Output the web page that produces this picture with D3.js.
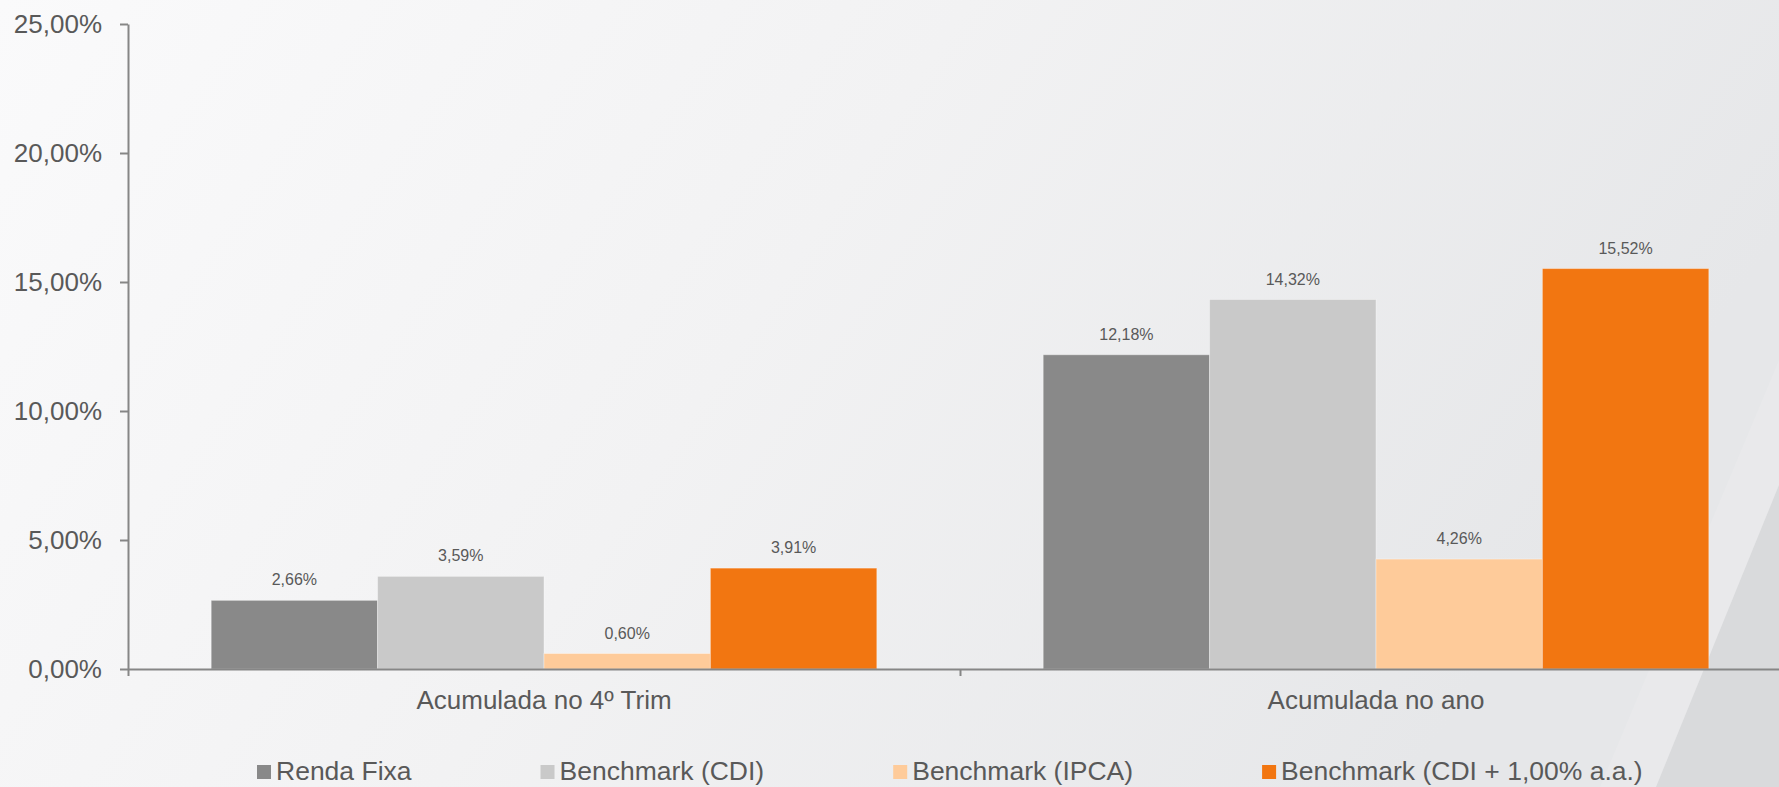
<!DOCTYPE html>
<html>
<head>
<meta charset="utf-8">
<script src="https://cdn.jsdelivr.net/npm/d3@7"></script>
<style>
  html, body { margin: 0; padding: 0; overflow: hidden; }
  svg { display: block; font-family: "Liberation Sans", Arial, sans-serif; }
</style>
</head>
<body>
<div id="chart"></div>
<script>
// data (values in %)
const categories = ["Acumulada no 4º Trim", "Acumulada no ano"];
const seriesNames = ["Renda Fixa", "Benchmark (CDI)", "Benchmark (IPCA)", "Benchmark (CDI + 1,00% a.a.)"];
const rendaFixa = [2.66, 12.18];
const benchCDI = [3.59, 14.32];
const benchIPCA = [0.60, 4.26];
const benchCDIPlus = [3.91, 15.52];
const seriesColors = ["#898989", "#c9c9c9", "#fecb9a", "#f27611"];
const yTicks = [0, 5, 10, 15, 20, 25];

const seriesValues = [rendaFixa, benchCDI, benchIPCA, benchCDIPlus];

const W = 1779, H = 787;
const margin = { top: 24, left: 128, right: -13, bottom: 118 }; // plot runs a bit past the right edge
const plotW = W - margin.left - margin.right,
      plotH = H - margin.top - margin.bottom;

const textColor = "#595959";
const axisColor = "#868686";

const ptBR = d3.formatLocale({ decimal: ",", thousands: ".", grouping: [3], currency: ["R$", ""] });
const fmt = v => ptBR.format(".2f")(v) + "%";

const svg = d3.select("#chart").append("svg")
    .attr("width", W)
    .attr("height", H);

// background
const defs = svg.append("defs");
const bg = defs.append("linearGradient").attr("id", "bg")
    .attr("x1", "0").attr("y1", "0").attr("x2", "1").attr("y2", "0.3");
bg.append("stop").attr("offset", "0").attr("stop-color", "#fafafb");
bg.append("stop").attr("offset", "0.5").attr("stop-color", "#f2f2f3");
bg.append("stop").attr("offset", "1").attr("stop-color", "#e6e7e9");
svg.append("rect").attr("width", W).attr("height", H).attr("fill", "url(#bg)");

// diagonal shapes bottom right
svg.append("polygon")
    .attr("points", `${W},360 ${W},${H} 1600,${H}`)
    .attr("fill", "#ebebed").attr("opacity", 0.5);
svg.append("polygon")
    .attr("points", `${W},485 ${W},${H} 1656,${H}`)
    .attr("fill", "#d9dadc");

const g = svg.append("g").attr("transform", `translate(${margin.left},${margin.top})`);

// scales
const x0 = d3.scaleBand().domain(categories).range([0, plotW]).padding(0);
const x1 = d3.scaleBand().domain(seriesNames)
    .range([x0.bandwidth() * 0.1, x0.bandwidth() * 0.9]).padding(0);
const y = d3.scaleLinear().domain([0, 25]).range([plotH, 0]);

// bars
const groups = g.selectAll(".group")
    .data(categories)
    .enter().append("g")
    .attr("class", "group")
    .attr("transform", d => `translate(${x0(d)},0)`);

groups.selectAll("rect")
    .data((c, i) => seriesNames.map((s, j) => ({ s, j, v: seriesValues[j][i] })))
    .enter().append("rect")
    .attr("x", d => x1(d.s))
    .attr("y", d => y(d.v))
    .attr("width", x1.bandwidth())
    .attr("height", d => y(0) - y(d.v))
    .attr("fill", d => seriesColors[d.j])
    .attr("stroke", "#ffffff")
    .attr("stroke-opacity", 0.35)
    .attr("stroke-width", 1);

groups.selectAll("text.val")
    .data((c, i) => seriesNames.map((s, j) => ({ s, j, v: seriesValues[j][i] })))
    .enter().append("text")
    .attr("class", "val")
    .attr("x", d => x1(d.s) + x1.bandwidth() / 2)
    .attr("y", d => y(d.v) - 15)
    .attr("text-anchor", "middle")
    .attr("font-size", 16)
    .attr("fill", textColor)
    .text(d => fmt(d.v));

// y axis
const yAxis = g.append("g")
    .call(d3.axisLeft(y).tickValues(yTicks).tickSize(8).tickSizeOuter(0).tickPadding(18).tickFormat(fmt));
yAxis.select(".domain").attr("stroke", axisColor).attr("stroke-width", 2);
yAxis.selectAll(".tick line").attr("stroke", axisColor).attr("stroke-width", 2);
yAxis.selectAll(".tick text")
    .attr("font-size", 26)
    .attr("font-family", "Liberation Sans, Arial, sans-serif")
    .attr("fill", textColor);

// x axis: baseline + boundary ticks
const bounds = categories.map(c => x0(c)).concat([plotW]);
const xTicks = g.append("g")
    .attr("transform", `translate(0,${plotH})`)
    .call(d3.axisBottom(d3.scaleLinear().domain([0, plotW]).range([0, plotW]))
        .tickValues(bounds).tickSize(7).tickSizeOuter(0).tickFormat(""));
xTicks.select(".domain").attr("stroke", axisColor).attr("stroke-width", 2);
xTicks.selectAll(".tick line").attr("stroke", axisColor).attr("stroke-width", 2);

// category labels
const xAxis = g.append("g")
    .attr("transform", `translate(0,${plotH})`)
    .call(d3.axisBottom(x0).tickSize(0).tickPadding(22));
xAxis.select(".domain").remove();
xAxis.selectAll(".tick text")
    .attr("font-size", 26)
    .attr("font-family", "Liberation Sans, Arial, sans-serif")
    .attr("fill", textColor);

// legend
const legend = svg.append("g").attr("transform", "translate(257,765)");
let lx = 0;
seriesNames.forEach((name, i) => {
    const item = legend.append("g").attr("transform", `translate(${lx},0)`);
    item.append("rect")
        .attr("width", 14).attr("height", 14)
        .attr("fill", seriesColors[i]);
    const t = item.append("text")
        .attr("x", 19).attr("y", 14.5)
        .attr("font-size", 26.5)
        .attr("fill", textColor)
        .text(name);
    lx += 19 + t.node().getComputedTextLength() + 129;
});
</script>
</body>
</html>
